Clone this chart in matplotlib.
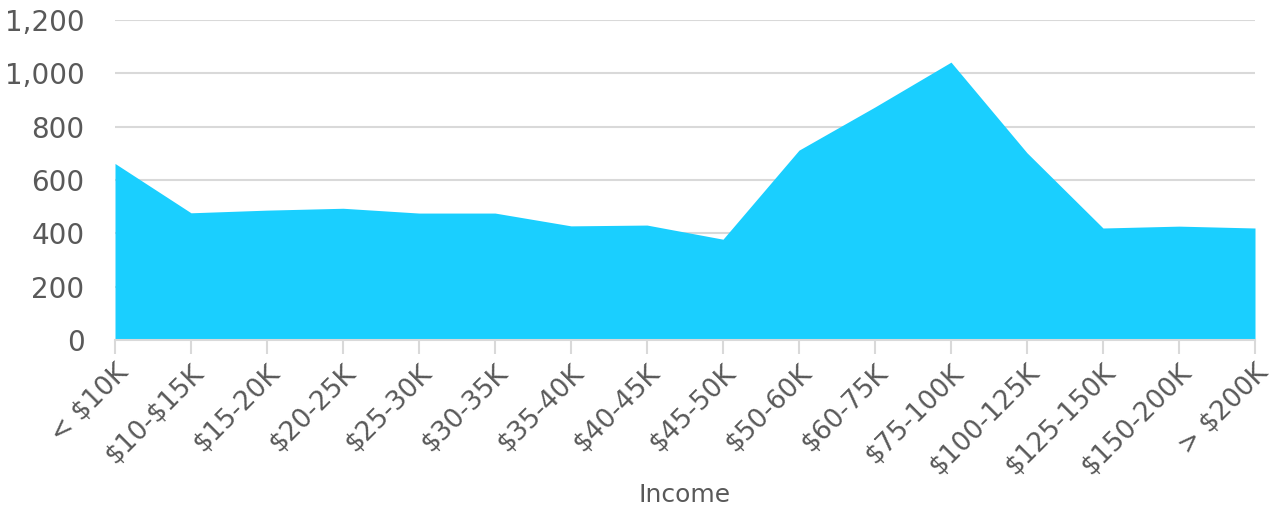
import matplotlib
matplotlib.use("Agg")
import matplotlib.pyplot as plt
from matplotlib.ticker import FuncFormatter

# Data
categories = ["< $10K", "$10-$15K", "$15-20K", "$20-25K", "$25-30K", "$30-35K",
              "$35-40K", "$40-45K", "$45-50K", "$50-60K", "$60-75K", "$75-100K",
              "$100-125K", "$125-150K", "$150-200K", "> $200K"]
counts = [662, 477, 487, 494, 476, 476, 428, 431, 378, 712, 874, 1042,
          702, 420, 427, 420]

text_col = "#595959"
grid_col = "#d9d9d9"
fill_col = "#1acfff"

plt.rcParams["font.family"] = ["DejaVu Sans"]

fig = plt.figure(figsize=(12.72, 5.18), dpi=100)
ax = fig.add_axes([115 / 1272, 1 - 340 / 518, 1140 / 1272, 320 / 518])

x = list(range(len(categories)))
ax.fill_between(x, counts, 0, color=fill_col, linewidth=0, zorder=2)

ax.set_xlim(0, len(categories) - 1)
ax.set_ylim(0, 1200)
ax.set_yticks(range(0, 1201, 200))
ax.yaxis.set_major_formatter(FuncFormatter(lambda v, p: f"{int(v):,}"))
ax.grid(axis="y", color=grid_col, linewidth=1.5, zorder=1)

ax.set_xticks(x)
ax.set_xticklabels([c.replace("$", r"\$") for c in categories],
                   rotation=45, ha="right", rotation_mode="anchor")

for s in ["top", "right", "left"]:
    ax.spines[s].set_visible(False)
ax.spines["bottom"].set_color(grid_col)
ax.spines["bottom"].set_linewidth(1.5)

ax.tick_params(axis="y", length=0, labelsize=20, labelcolor=text_col, pad=22)
ax.tick_params(axis="x", length=10, width=1.5, color=grid_col, labelsize=19,
               labelcolor=text_col, pad=4)

ax.set_xlabel("Income", fontsize=18, color=text_col, labelpad=2)

fig.savefig("out.png", dpi=100)
